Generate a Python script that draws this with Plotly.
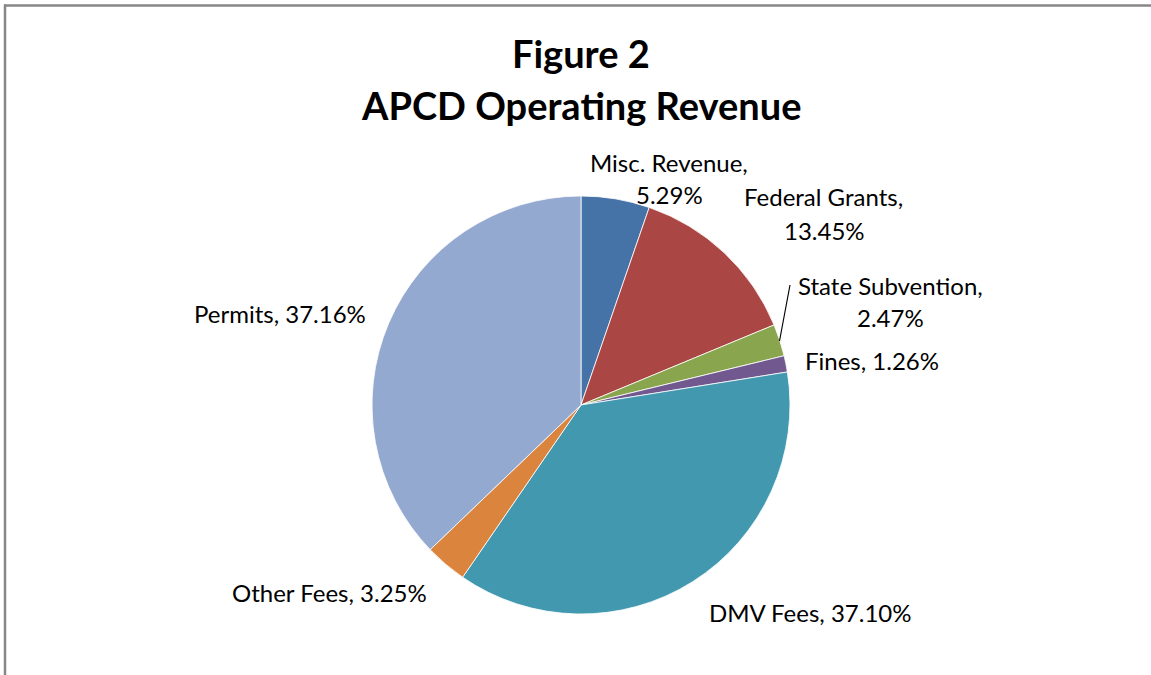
import plotly.graph_objects as go

categories = ["Misc. Revenue", "Federal Grants", "State Subvention", "Fines",
              "DMV Fees", "Other Fees", "Permits"]
values = [5.29, 13.45, 2.47, 1.26, 37.10, 3.25, 37.16]
colors = ["#4572A7", "#AA4643", "#89A54E", "#71588F", "#4198AF", "#DB843D", "#93A9CF"]

W, H = 1151, 675

def px(x):
    return x / W

def py(y):
    return 1 - y / H

# pie geometry (pixels)
cx, cy, r = 581, 405, 209

fig = go.Figure(go.Pie(
    labels=categories,
    values=values,
    sort=False,
    direction="clockwise",
    rotation=0,
    marker=dict(colors=colors, line=dict(color="white", width=0.8)),
    textinfo="none",
    hoverinfo="label+percent",
    domain=dict(x=[px(cx - r), px(cx + r)], y=[py(cy + r), py(cy - r)]),
    showlegend=False,
))

# label lines: (text, x center, y center) in pixels
label_lines = [
    (f"{categories[0]},", 669, 162), (f"{values[0]:.2f}%", 669, 195),
    (f"{categories[1]},", 823, 197), (f"{values[1]:.2f}%", 824, 230),
    (f"{categories[2]},", 890, 285), (f"{values[2]:.2f}%", 890, 318),
    (f"{categories[3]}, {values[3]:.2f}%", 872, 360),
    (f"{categories[4]}, {values[4]:.2f}%", 810, 612),
    (f"{categories[5]}, {values[5]:.2f}%", 330, 592),
    (f"{categories[6]}, {values[6]:.2f}%", 280, 313),
]

FONT = "Lato, Open Sans, sans-serif"
annotations = []
for t, x, y in label_lines:
    annotations.append(dict(text=t, x=px(x), y=py(y), xref="paper", yref="paper",
                            xanchor="center", yanchor="middle", showarrow=False,
                            font=dict(family=FONT, size=24, color="#000000")))

for t, y in [("Figure 2", 53), ("APCD Operating Revenue", 105)]:
    annotations.append(dict(text=f"<b>{t}</b>", x=px(581), y=py(y), xref="paper", yref="paper",
                            xanchor="center", yanchor="middle", showarrow=False,
                            font=dict(family=FONT, size=38, color="#000000")))

shapes = [
    dict(type="line", xref="paper", yref="paper", x0=px(4), x1=1, y0=py(5.5), y1=py(5.5),
         line=dict(color="#878787", width=2.5)),
    dict(type="line", xref="paper", yref="paper", x0=px(5), x1=px(5), y0=py(4.5), y1=0,
         line=dict(color="#878787", width=2.5)),
    # leader line for State Subvention
    dict(type="line", xref="paper", yref="paper", x0=px(790), x1=px(779.5), y0=py(285), y1=py(341),
         line=dict(color="#000000", width=1.2)),
]

fig.update_layout(
    width=W, height=H,
    margin=dict(l=0, r=0, t=0, b=0),
    paper_bgcolor="white", plot_bgcolor="white",
    annotations=annotations,
    shapes=shapes,
)

fig.write_html("out.html", config={"displayModeBar": False},
               post_script="document.body.style.margin='0';document.body.style.overflow='hidden';")
